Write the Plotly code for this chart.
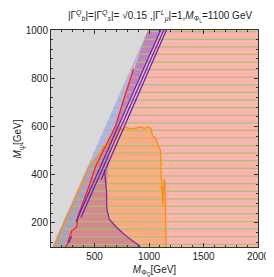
import plotly.graph_objects as go

# ---------------- data (GeV) ----------------
# gray excluded region boundary (upper-left)
gray_x = [109, 989]
gray_y = [100, 1000]

# left edge of the pink / purple regions (follows the red contour, then up to the top)
edge_x = [231, 250, 265, 292, 335, 350, 451, 510, 585, 690, 773, 858, 935, 989]
edge_y = [100, 110, 136, 168, 182, 231, 354, 435, 504, 599, 720, 838, 935, 1000]

# red contour
red_x = [231, 250, 265, 292, 335, 350, 451, 510, 585, 690, 773, 858]
red_y = [100, 110, 136, 168, 182, 231, 354, 435, 504, 599, 720, 838]

# right edge of purple region (top -> bottom, along first violet line then purple contour)
purp_x = [1107, 745, 640, 620, 610, 612, 635, 700, 800, 902, 920]
purp_y = [1000, 640, 500, 400, 330, 260, 215, 182, 142, 108, 100]

# purple contour line (lower part)
pc_x = [590, 610, 612, 635, 700, 800, 902, 920]
pc_y = [420, 330, 260, 215, 182, 142, 108, 100]

# orange contour (closed along the bottom axis)
or_x = [125, 228, 340, 452, 510, 553, 582, 612, 641, 669, 699, 728, 757, 786, 830, 873,
        917, 960, 989, 1018, 1033, 1062, 1076, 1097, 1105, 1111, 1120, 1126, 1131, 1140,
        1146, 1149, 1155, 1157]
or_y = [100, 210, 320, 435, 468, 490, 518, 512, 548, 541, 570, 598, 584, 597, 590, 592,
        598, 591, 599, 590, 560, 552, 530, 508, 500, 408, 313, 272, 340, 381,
        374, 272, 108, 100]

# violet contour lines (segments)
v1_x = [1107, 330]; v1_y = [1000, 205]
v2_x = [1135, 375]; v2_y = [1000, 222]
v3_x = [1160, 560]; v3_y = [1000, 380]
vd_x = [262, 290]; vd_y = [118, 145]

# green hatch rows
hatch_y = [111, 142.5, 174, 205.5, 237, 268.5, 300, 331.5, 363, 394.5, 426, 457.5, 489,
           520.5, 552, 583.5, 615, 646.5, 678, 709.5, 741, 772.5, 804, 835.5, 867, 898.5,
           930, 961.5, 993]

x_ticks = [500, 1000, 1500, 2000]
y_ticks = [200, 400, 600, 800, 1000]
x_minor = [200, 300, 400, 600, 700, 800, 900, 1100, 1200, 1300, 1400, 1600, 1700, 1800, 1900]
y_minor = [120, 160, 240, 280, 320, 360, 440, 480, 520, 560, 640, 680, 720, 760, 840, 880, 920, 960]

XMIN, XMAX, YMIN, YMAX = 100, 2000, 100, 1000

fig = go.Figure()

def poly(xs, ys, color):
    fig.add_trace(go.Scatter(x=xs, y=ys, mode="lines", fill="toself", fillcolor=color,
                             line=dict(width=0), hoverinfo="skip"))

def gx(y):
    return gray_x[0] + (gray_x[1] - gray_x[0]) * (y - gray_y[0]) / (gray_y[1] - gray_y[0])

# gray region
poly([XMIN, gray_x[0], gray_x[1], XMIN], [YMIN, gray_y[0], gray_y[1], YMAX], "#d9d9d9")
# pink region
poly(edge_x + [XMAX, XMAX], edge_y + [YMAX, YMIN], "rgba(255,0,0,0.30)")
# purple region
poly(edge_x + purp_x, edge_y + purp_y, "rgba(107,49,216,0.40)")
# orange region
poly(or_x, or_y, "rgba(255,149,36,0.30)")
# blue band (between gray boundary and edge)
poly(gray_x + edge_x[::-1], gray_y + edge_y[::-1], "rgba(0,0,205,0.30)")

# green hatching
hx, hy = [], []
for y in hatch_y:
    hx += [gx(y), XMAX, None]
    hy += [y, y, None]
fig.add_trace(go.Scatter(x=hx, y=hy, mode="lines", line=dict(color="#97cc5e", width=1.2),
                         hoverinfo="skip"))

# contour lines
fig.add_trace(go.Scatter(x=or_x, y=or_y, mode="lines", line=dict(color="#ff8c00", width=1.2)))
fig.add_trace(go.Scatter(x=red_x, y=red_y, mode="lines", line=dict(color="#ff1a1a", width=1.2)))
fig.add_trace(go.Scatter(x=pc_x, y=pc_y, mode="lines", line=dict(color="#7028a8", width=1.2)))
vx = v1_x + [None] + v2_x + [None] + v3_x + [None] + vd_x
vy = v1_y + [None] + v2_y + [None] + v3_y + [None] + vd_y
fig.add_trace(go.Scatter(x=vx, y=vy, mode="lines", line=dict(color="#5a1ec4", width=1.2)))

font = "Liberation Sans, Arial, sans-serif"
axis_common = dict(showline=True, linecolor="#333333", linewidth=1, mirror="allticks",
                   ticks="inside", ticklen=4, tickcolor="#333333", showgrid=False,
                   zeroline=False, tickfont=dict(size=10, color="#222222", family=font))

fig.update_layout(
    width=274, height=277,
    margin=dict(l=43, r=13, t=22, b=35),
    plot_bgcolor="white", paper_bgcolor="white", showlegend=False,
    font=dict(family=font, color="#222222"),
    title=dict(text="|Γ<sup><i>Q</i></sup><sub><i>b</i></sub>|=|Γ<sup><i>Q</i></sup><sub><i>s</i></sub>|= √0.15 ,|Γ<sup><i>L</i></sup><sub><i>μ</i></sub>|=1,<i>M</i><sub>Φ<sub>L</sub></sub>=1100 GeV",
               x=0.555, xanchor="center", y=0.985, yanchor="top",
               font=dict(size=10, color="#222222")),
    xaxis=dict(range=[XMIN, XMAX], tickvals=x_ticks,
               minor=dict(tickvals=x_minor, ticks="inside", ticklen=2, tickcolor="#333333"),
               title=dict(text="<i>M</i><sub>Φ<sub>Q</sub></sub>[GeV]", standoff=4,
                          font=dict(size=10, color="#222222")),
               **axis_common),
    yaxis=dict(range=[YMIN, YMAX], tickvals=y_ticks,
               minor=dict(tickvals=y_minor, ticks="inside", ticklen=2, tickcolor="#333333"),
               **axis_common),
    annotations=[
        dict(text="<i>M</i><sub>ψ</sub>[GeV]", xref="paper", yref="paper",
             x=-0.155, y=0.5, xanchor="center", yanchor="middle", textangle=-90,
             showarrow=False, font=dict(size=10, color="#222222")),
    ],
)

fig.write_html("out.html")
